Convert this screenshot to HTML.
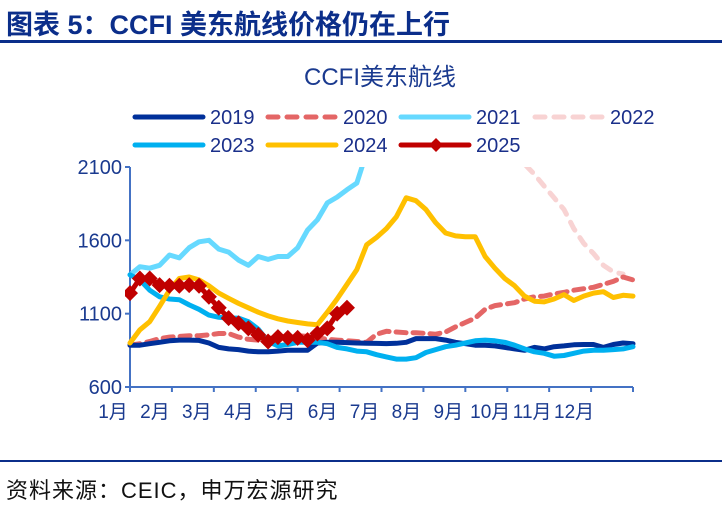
<!DOCTYPE html>
<html><head><meta charset="utf-8"><style>
body{margin:0;background:#fff;width:722px;height:505px;overflow:hidden;font-family:"Liberation Sans","Noto Sans CJK SC",sans-serif}
svg{position:absolute;left:0;top:0}
</style></head><body>
<svg width="722" height="505">
<text x="6" y="34" font-size="27" font-weight="bold" fill="#0B2E8A" font-family="Liberation Sans,Noto Sans CJK SC,sans-serif">图表 5：CCFI 美东航线价格仍在上行</text>
<rect x="0" y="40" width="722" height="3" fill="#0B2E8A"/>
<text x="380" y="85" font-size="24" fill="#1A3A8F" text-anchor="middle" font-family="Liberation Sans,Noto Sans CJK SC,sans-serif">CCFI美东航线</text>
<g id="legend"></g>
<g id="axes"></g>
<defs><clipPath id="pc"><rect x="125" y="167" width="520" height="225"/></clipPath></defs>
<g id="plot" clip-path="url(#pc)"></g>
<rect x="0" y="460" width="722" height="2" fill="#0B2E8A"/>
<text x="6" y="498" font-size="22" fill="#111" letter-spacing="1" font-family="Liberation Sans,Noto Sans CJK SC,sans-serif">资料来源：CEIC，申万宏源研究</text>
</svg>
<script>
const months=["1月","2月","3月","4月","5月","6月","7月","8月","9月","10月","11月","12月"];
const yTicks=[600,1100,1600,2100];
const s2019=[885,885,895,905,915,920,920,918,900,870,860,855,845,840,840,845,850,850,850,900,905,905,903,900,898,897,896,898,905,930,930,930,920,905,895,885,885,880,870,860,850,870,860,875,880,888,890,890,870,890,900,895];
const s2020=[885,895,910,930,940,945,950,950,955,965,965,940,925,920,930,940,945,950,945,935,925,920,915,910,905,960,980,975,970,970,965,960,975,1010,1040,1070,1130,1155,1165,1175,1200,1215,1220,1235,1245,1260,1270,1280,1300,1320,1350,1330];
const s2021=[1364,1420,1410,1430,1500,1480,1550,1590,1600,1540,1520,1465,1430,1490,1470,1490,1490,1550,1670,1740,1855,1895,1945,1990,2200,2500,2800,3100,3400,3700,4000,4300,4600,4900,5200,5500,5800,6100,6400,6700,7000,7300,7600,7900,8200,8500,8800,9100,9400,9700,9900,9900];
const s2022=[9000,9000,9000,9000,9000,9000,9000,9000,9000,9000,9000,9000,9000,9000,9000,9000,9000,9000,9000,9000,9000,9000,9000,9000,8000,7500,7000,6500,6000,5500,5000,4500,4000,3600,3200,2900,2600,2400,2250,2180,2120,2050,1970,1890,1810,1680,1580,1510,1430,1385,1370];
const s2023=[1365,1330,1260,1215,1200,1195,1160,1130,1090,1075,1070,1070,1045,995,910,880,890,905,905,905,895,870,860,845,840,820,805,790,790,800,835,855,875,885,900,915,920,915,905,885,860,840,830,810,815,830,845,850,850,855,860,875];
const s2024=[900,990,1045,1150,1260,1340,1350,1330,1290,1240,1205,1170,1140,1110,1085,1065,1050,1040,1030,1025,1110,1200,1300,1400,1570,1620,1680,1760,1890,1870,1810,1720,1650,1630,1625,1625,1490,1410,1340,1290,1220,1185,1180,1200,1230,1190,1220,1240,1250,1210,1225,1220];
const s2025=[1240,1340,1340,1295,1290,1290,1295,1290,1215,1140,1070,1035,1000,955,910,940,935,935,920,965,1000,1100,1140];
const X0=130,X1=633,Y0=387,Y1=167,VMIN=600,VMAX=2100;
const xw=i=>X0+i*(X1-X0)/51;
const yv=v=>Y0-(v-VMIN)/(VMAX-VMIN)*(Y0-Y1);
const NS="http://www.w3.org/2000/svg";
function mk(tag,at,par){const e=document.createElementNS(NS,tag);for(const k in at)e.setAttribute(k,at[k]);par.appendChild(e);return e;}
const axes=document.getElementById('axes'),plot=document.getElementById('plot'),leg=document.getElementById('legend');
const ax=mk('line',{x1:X0,y1:Y1,x2:X0,y2:Y0,stroke:'#4472C4','stroke-width':2},axes);


const bx=mk('line',{x1:X0,y1:Y0,x2:X1,y2:Y0,stroke:'#4472C4','stroke-width':2},axes);


yTicks.forEach(v=>{
 mk('line',{x1:X0-5,y1:yv(v),x2:X0,y2:yv(v),stroke:'#4472C4','stroke-width':2},axes);
 const t=mk('text',{x:X0-8,y:yv(v)+7,'font-size':20,fill:'#1A3A8F','text-anchor':'end'},axes);
 t.textContent=v;
 
 
});
months.forEach((m,i)=>{
 const tx=X0+i*(X1-X0)/12;
 mk('line',{x1:tx,y1:Y0,x2:tx,y2:Y0+5,stroke:'#4472C4','stroke-width':2},axes);
 const t=mk('text',{x:tx-17,y:Y0+31,'font-size':19,fill:'#1A3A8F','text-anchor':'middle'},axes);
 t.textContent=m;
 
 
});
mk('line',{x1:X1,y1:Y0,x2:X1,y2:Y0+5,stroke:'#4472C4','stroke-width':2},axes);
const series=[
 {n:'2022',d:s2022,c:'#F8D3D3',dash:'9 9'},
 {n:'2020',d:s2020,c:'#E46666',dash:'10 7'},
 {n:'2019',d:s2019,c:'#00309A'},
 {n:'2021',d:s2021,c:'#66D9FF'},
 {n:'2023',d:s2023,c:'#00B0F0'},
 {n:'2024',d:s2024,c:'#FFC000'},
 {n:'2025',d:s2025,c:'#C00000',mk:true}
];
series.forEach(s=>{
 const pts=s.d.map((v,i)=>xw(i).toFixed(1)+','+yv(v).toFixed(1)).join(' ');
 const p=mk('polyline',{points:pts,fill:'none',stroke:s.c,'stroke-width':5,'stroke-linejoin':'round','stroke-linecap':'round'},plot);
 if(s.dash)p.setAttribute('stroke-dasharray',s.dash);
 
 
 if(s.mk)s.d.forEach((v,i)=>{
  const x=xw(i),y=yv(v);
  const d=mk('polygon',{points:`${x},${y-8} ${x+8},${y} ${x},${y+8} ${x-8},${y}`,fill:s.c},plot);
  
  
 });
});
const legItems=[
 {n:'2019',c:'#00309A',x:135,y:117},{n:'2020',c:'#E46666',x:268,y:117,dash:'10 9'},
 {n:'2021',c:'#66D9FF',x:401,y:117},{n:'2022',c:'#F8D3D3',x:535,y:117,dash:'10 9'},
 {n:'2023',c:'#00B0F0',x:135,y:145},{n:'2024',c:'#FFC000',x:268,y:145},
 {n:'2025',c:'#C00000',x:401,y:145,mk:true}];
legItems.forEach(l=>{
 const g=mk('g',{},leg);
 
 
 const ln=mk('line',{x1:l.x,y1:l.y,x2:l.x+68,y2:l.y,stroke:l.c,'stroke-width':5,'stroke-linecap':'round'},g);
 if(l.dash)ln.setAttribute('stroke-dasharray',l.dash);
 if(l.mk){const cx=l.x+35;mk('polygon',{points:`${cx},${l.y-7} ${cx+7},${l.y} ${cx},${l.y+7} ${cx-7},${l.y}`,fill:l.c},g);}
 const t=mk('text',{x:l.x+75,y:l.y+7,'font-size':20,fill:'#1A2F8A'},g);
 t.textContent=l.n;
});
</script>
</body></html>
